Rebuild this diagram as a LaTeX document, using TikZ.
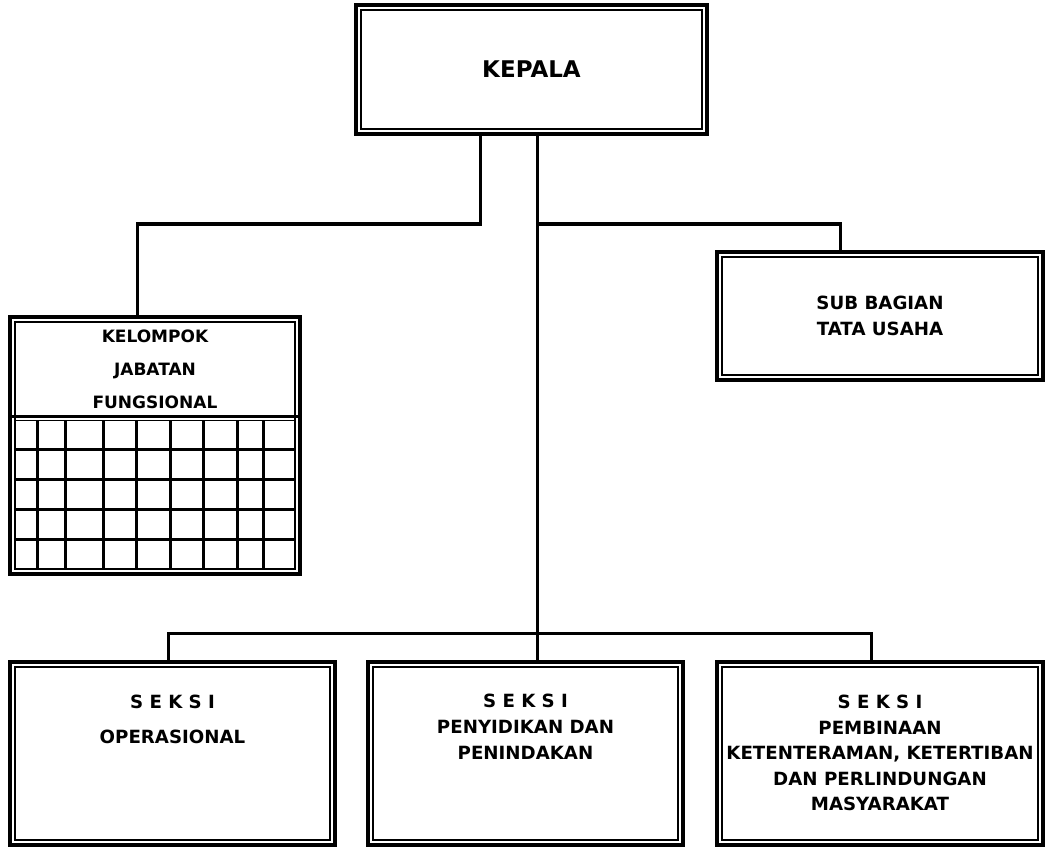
\documentclass[tikz,border=0pt]{standalone}
\usepackage{fontspec}
\setmainfont{DejaVu Sans}
\usetikzlibrary{positioning, calc}
\tikzset{
  unit/.style={
    draw=black, line width=3.2pt, inner sep=0pt, outer sep=0pt,
    path picture={\draw[line width=1.6pt]
      ([shift={(5pt,-5pt)}]path picture bounding box.north west) rectangle
      ([shift={(-5pt,5pt)}]path picture bounding box.south east);}
  },
  lbl/.style={font=\fontsize{18.2}{25.5}\selectfont\bfseries, align=center, inner sep=0pt},
  link/.style={line width=3pt, draw=black},
  cell/.style={line width=3pt, draw=black},
}

\begin{document}
\begin{tikzpicture}[x=1pt, y=-1pt]
  \useasboundingbox (0,0) rectangle (1045,848);

  % top level
  \node[unit, minimum width=351pt, minimum height=129pt,
    font=\fontsize{23}{28}\selectfont\bfseries] (kepala) at (531.5,69.5) {KEPALA};
  \node[unit, lbl, minimum width=326pt, minimum height=128pt] (sub) at (880,316)
    {SUB BAGIAN\\TATA USAHA};

  % kelompok jabatan fungsional
  \node[unit, minimum width=290pt, minimum height=257pt] (kjf) at (155,445.5) {};
  \node[lbl, font=\fontsize{17}{33}\selectfont\bfseries] (kjfT) at (155,369.5)
    {KELOMPOK\\JABATAN\\FUNGSIONAL};
  \draw[cell] (10,416) -- (300,416);
  \draw[line width=1.6pt] (15,420.5) -- (295,420.5);
  \foreach \x in {37,65,103,136,170,203,237,263}
    \draw[cell] (\x,420.5) -- (\x,569);
  \foreach \y in {449,479,509,539}
    \draw[cell] (15,\y) -- (295,\y);

  % seksi
  \node[unit, minimum width=325pt, minimum height=183pt] (op) at (172.5,753.5) {};
  \node[unit, minimum width=315pt, minimum height=183pt] (py) at (525.5,753.5) {};
  \node[unit, minimum width=326pt, minimum height=183pt] (pm) at (880,753.5) {};
  \node[lbl, anchor=north] (opT) at ([yshift=-33pt]op.north)
    {S E K S I\\[9pt]OPERASIONAL};
  \node[lbl, anchor=north, font=\fontsize{18.2}{26}\selectfont\bfseries] (pyT)
    at ([yshift=-32pt]py.north) {S E K S I\\PENYIDIKAN DAN\\PENINDAKAN};
  \node[lbl, anchor=north] (pmT) at ([yshift=-33pt]pm.north)
    {S E K S I\\PEMBINAAN\\KETENTERAMAN, KETERTIBAN\\DAN PERLINDUNGAN\\MASYARAKAT};

  % lines
  \coordinate (jL) at (480,224);
  \coordinate (jR) at (537,224);
  \coordinate (bus) at (537,633);
  \draw[link] (kepala.south -| jL) -- (jL) -| ([xshift=-18pt]kjf.north);
  \draw[link] (kepala.south -| jR) -- (jR |- py.north);
  \draw[link] (jR) -| ([xshift=-40pt]sub.north);
  \draw[link] ([xshift=-4pt]op.north) |- ([xshift=-9pt]pm.north |- bus)
    -- ([xshift=-9pt]pm.north);
\end{tikzpicture}
\end{document}
